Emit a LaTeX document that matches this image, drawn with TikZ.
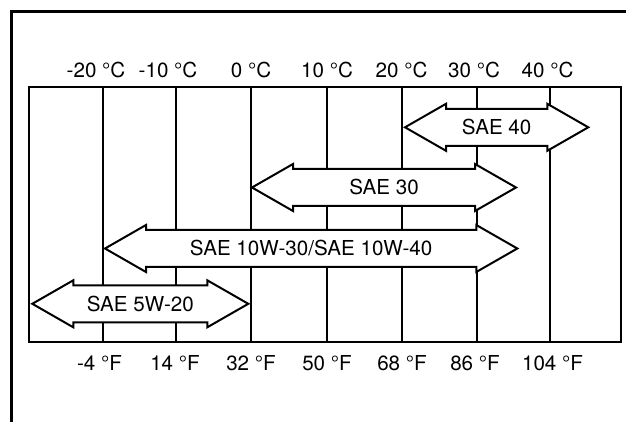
\documentclass[tikz,border=0pt]{standalone}
\usepackage{fontspec}
\setmainfont{TeX Gyre Heros}
\usetikzlibrary{positioning}

% block arrow with a head at both ends: name, y, left tip, right tip, label
\newcommand{\oilgrade}[5]{%
    \path[gradearrow] (#3,#2) -- (#3+41,#2-23.5) -- (#3+41,#2-18.5) -- (#4-41,#2-18.5)
        -- (#4-41,#2-23.5) -- (#4,#2) -- (#4-41,#2+23.5) -- (#4-41,#2+18.5)
        -- (#3+41,#2+18.5) -- (#3+41,#2+23.5) -- cycle;
    \node[gradelabel] (#1) at ({(#3+#4)/2},#2+7.5) {#5};
}

\begin{document}
\begin{tikzpicture}[
        x=0.5pt, y=-0.5pt,
        gridline/.style={line width=1pt},
        gradearrow/.style={draw, fill=white, line width=1pt, line join=miter},
        gradelabel/.style={anchor=base, inner sep=0pt, font=\fontsize{10.3}{12}\selectfont},
        templabel/.style={anchor=base, inner sep=0pt, font=\fontsize{10.3}{12}\selectfont}
    ]
        \useasboundingbox (0,0) rectangle (626,422);

        % outer frame
        \draw[line width=1.65pt, line join=miter] (626,11.7) -- (11.7,11.7) -- (11.7,422);

        % chart area
        \draw[gridline] (28.5,87.5) rectangle (620.5,342);
        \foreach \x in {103, 175.5, 251, 326.5, 402, 477, 550}
            \draw[gridline] (\x,87.5) -- (\x,342);

        % celsius scale
        \node[templabel] (c1) at (96,78) {-20 °C};
        \node[templabel] (c2) at (168,78) {-10 °C};
        \node[templabel] (c3) at (251,78) {0 °C};
        \node[templabel] (c4) at (327,78) {10 °C};
        \node[templabel] (c5) at (401.5,78) {20 °C};
        \node[templabel] (c6) at (474,78) {30 °C};
        \node[templabel] (c7) at (547.5,78) {40 °C};

        % fahrenheit scale
        \node[templabel] (f1) at (99.5,370) {-4 °F};
        \node[templabel] (f2) at (175,370) {14 °F};
        \node[templabel] (f3) at (251,370) {32 °F};
        \node[templabel] (f4) at (327,370) {50 °F};
        \node[templabel] (f5) at (402,370) {68 °F};
        \node[templabel] (f6) at (475,370) {86 °F};
        \node[templabel] (f7) at (552.5,370) {104 °F};

        % viscosity grades
        \oilgrade{sae40}{127.3}{405}{588.3}{SAE 40}
        \oilgrade{sae30}{187.5}{252}{516}{SAE 30}
        \oilgrade{sae10w}{248.5}{105}{517.3}{SAE 10W-30/SAE 10W-40}
        \oilgrade{sae5w}{303.8}{32.3}{248.3}{SAE 5W-20}
    \end{tikzpicture}
\end{document}
